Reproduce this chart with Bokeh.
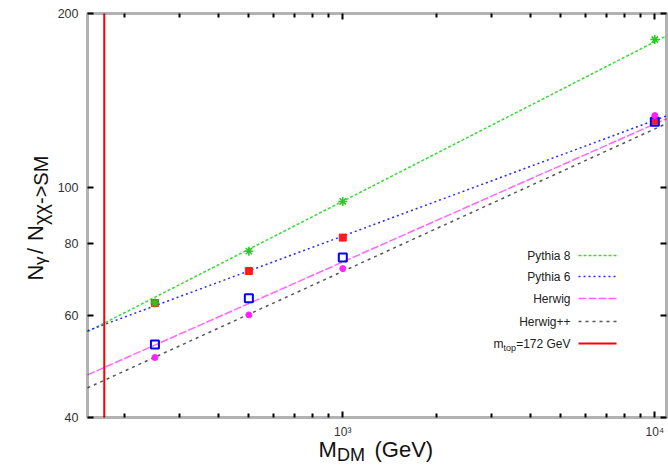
import math
from bokeh.plotting import figure
from bokeh.models import FixedTicker, LogAxis, Label, BoxAnnotation
from bokeh.embed import file_html
from bokeh.resources import INLINE

# ---------------- data ----------------
mass = [250, 500, 1000, 10000]
pythia8 = [63.1, 77.6, 94.6, 180.3]
pythia6 = [63.1, 71.7, 81.9, 130.5]
herwig = [53.5, 64.3, 75.7, 130.0]
herwigpp = [50.8, 60.2, 72.4, 133.2]

fit_mass = [152, 10900]
fit_pythia8 = [56.3, 183.0]
fit_pythia6 = [56.5, 133.0]
fit_herwig = [47.4, 131.5]
fit_herwigpp = [45.0, 129.0]

m_top = 172

x_major = [1000, 10000]
x_major_labels = ["10³", "10⁴"]
x_minor = [200, 300, 400, 500, 600, 700, 800, 900,
           2000, 3000, 4000, 5000, 6000, 7000, 8000, 9000]
y_ticks = [40, 60, 80, 100, 200]
y_tick_labels = ["40", "60", "80", "100", "200"]

legend_labels = ["Pythia 8", "Pythia 6", "Herwig", "Herwig++"]

# ---------------- layout constants ----------------
XB = (152, 10900)      # inner plot box, data units
YB = (40, 200)
W, H = 668, 465
FX0, FX1, FY0, FY1 = 87, 666, 13, 417   # inner box, pixels
FONT = "Liberation Sans"

kx = (math.log10(XB[1]) - math.log10(XB[0])) / (FX1 - FX0)
ky = (math.log10(YB[1]) - math.log10(YB[0])) / (FY1 - FY0)
XR = (10 ** (math.log10(XB[0]) - FX0 * kx), 10 ** (math.log10(XB[1]) + (W - FX1) * kx))
YR = (10 ** (math.log10(YB[0]) - (H - FY1) * ky), 10 ** (math.log10(YB[1]) + FY0 * ky))


def dx(sx):
    return 10 ** (math.log10(XB[0]) + (sx - FX0) * kx)


def dy(sy):
    return 10 ** (math.log10(YB[0]) + (FY1 - sy) * ky)


p = figure(width=W, height=H, x_axis_type="log", y_axis_type="log",
           x_range=XR, y_range=YR, output_backend="svg", toolbar_location=None,
           x_axis_location=None, y_axis_location=None,
           min_border_left=0, min_border_right=0,
           min_border_top=0, min_border_bottom=0)
p.xgrid.visible = False
p.ygrid.visible = False
p.outline_line_color = None
p.background_fill_color = "white"
p.border_fill_color = "white"

xb = LogAxis(fixed_location=YB[0])
xt = LogAxis(fixed_location=YB[1])
yl = LogAxis(fixed_location=XB[0])
yr = LogAxis(fixed_location=XB[1])
p.add_layout(xb, "below")
p.add_layout(xt, "above")
p.add_layout(yl, "left")
p.add_layout(yr, "right")

for ax in [xb, xt]:
    ax.ticker = FixedTicker(ticks=x_major, minor_ticks=x_minor)
for ax in [yl, yr]:
    ax.ticker = FixedTicker(ticks=y_ticks, minor_ticks=[])

for ax in [xb, xt, yl, yr]:
    ax.axis_line_color = None
    ax.major_tick_in = 6
    ax.major_tick_out = 0
    ax.minor_tick_in = 4
    ax.minor_tick_out = 0
    ax.major_tick_line_width = 2
    ax.minor_tick_line_width = 2
    ax.major_tick_line_color = "black"
    ax.minor_tick_line_color = "black"
    ax.major_label_text_font = FONT
    ax.major_label_text_color = "#333333"

xb.major_label_text_font_size = "12px"
yl.major_label_text_font_size = "12.5px"
xb.major_label_overrides = dict(zip(x_major, x_major_labels))
yl.major_label_overrides = dict(zip(y_ticks, y_tick_labels))
xb.major_label_standoff = 7
yl.major_label_standoff = 9
for ax in [xt, yr]:
    ax.major_label_text_font_size = "1px"
    ax.major_label_text_color = None
    ax.major_label_standoff = 0

# plot box
p.add_layout(BoxAnnotation(left=XB[0], right=XB[1], bottom=YB[0], top=YB[1],
                           fill_alpha=0, fill_color=None, line_color="black",
                           line_width=3, level="overlay"))

# ---------------- fit lines ----------------
styles = [
    (fit_pythia8, "#33dd33", "3 2"),
    (fit_pythia6, "#2a2aff", "2 3"),
    (fit_herwig, "#ff66ff", "8 2"),
    (fit_herwigpp, "#555555", "3 4"),
]
for vals, col, dash in styles:
    p.line(fit_mass, vals, line_color=col, line_width=1.5, line_dash=dash)

p.segment(x0=[m_top], y0=[YB[0]], x1=[m_top], y1=[YB[1]],
          line_color="#ff0000", line_width=2)

# ---------------- data points ----------------
p.scatter(mass, pythia6, marker="square", size=7, fill_color="#ff1a1a",
          line_color="#ff1a1a")
p.scatter(mass, pythia8, marker="asterisk", size=9, line_color="#22cc22",
          line_width=1.5)
p.scatter(mass, herwig, marker="square", size=8, fill_color=None,
          line_color="#0000ff", line_width=2)
p.scatter(mass, herwigpp, marker="circle", size=6, fill_color="#ff22ff",
          line_color="#ff22ff")

# ---------------- legend (gnuplot style) ----------------
rows = [255, 276, 298, 321, 343]
TX = 570
for (vals, col, dash), lab, sy in zip(styles, legend_labels, rows):
    p.add_layout(Label(x=dx(TX), y=dy(sy), text=lab, text_align="right",
                       text_baseline="middle", text_font=FONT,
                       text_font_size="12px", text_color="#222222"))
    p.line([dx(578), dx(616)], [dy(sy), dy(sy)], line_color=col,
           line_width=1.5, line_dash=dash)

sy = rows[4]
w_rest = 4.531 * 12
w_top = 1.39 * 9
p.add_layout(Label(x=dx(TX), y=dy(sy), text="=172 GeV", text_align="right",
                   text_baseline="middle", text_font=FONT,
                   text_font_size="12px", text_color="#222222"))
p.add_layout(Label(x=dx(TX - w_rest), y=dy(sy + 4), text="top",
                   text_align="right", text_baseline="middle", text_font=FONT,
                   text_font_size="9px", text_color="#222222"))
p.add_layout(Label(x=dx(TX - w_rest - w_top), y=dy(sy), text="m",
                   text_align="right", text_baseline="middle", text_font=FONT,
                   text_font_size="12px", text_color="#222222"))
p.line([dx(578), dx(616)], [dy(sy), dy(sy)], line_color="#ff0000",
       line_width=2)

# ---------------- axis titles (composed for subscripts) ----------------
# x title: M_DM (GeV)
for txt, fs, sx, sy in [("M", 22, 318, 449), ("DM", 18, 336.5, 454),
                        ("(GeV)", 22, 374, 449)]:
    p.add_layout(Label(x=dx(sx), y=dy(sy), text=txt, text_font=FONT,
                       text_font_size=f"{fs}px", text_baseline="alphabetic",
                       text_color="#111111"))

# y title: N_gamma / N_chichi->SM  (rotated, reading upward)
bx, sbx = 35, 40
for txt, fs, xx, sy in [("N", 22, bx, 280), ("γ", 17, sbx, 264.5),
                        ("/", 22, bx, 253.5), ("N", 22, bx, 240.5),
                        ("χχ->SM", 20, sbx, 224.5)]:
    p.add_layout(Label(x=dx(xx), y=dy(sy), text=txt, angle=math.pi / 2,
                       text_font=FONT, text_font_size=f"{fs}px",
                       text_baseline="alphabetic", text_align="left",
                       text_color="#111111"))

open("out.html", "w").write(file_html(p, INLINE))
